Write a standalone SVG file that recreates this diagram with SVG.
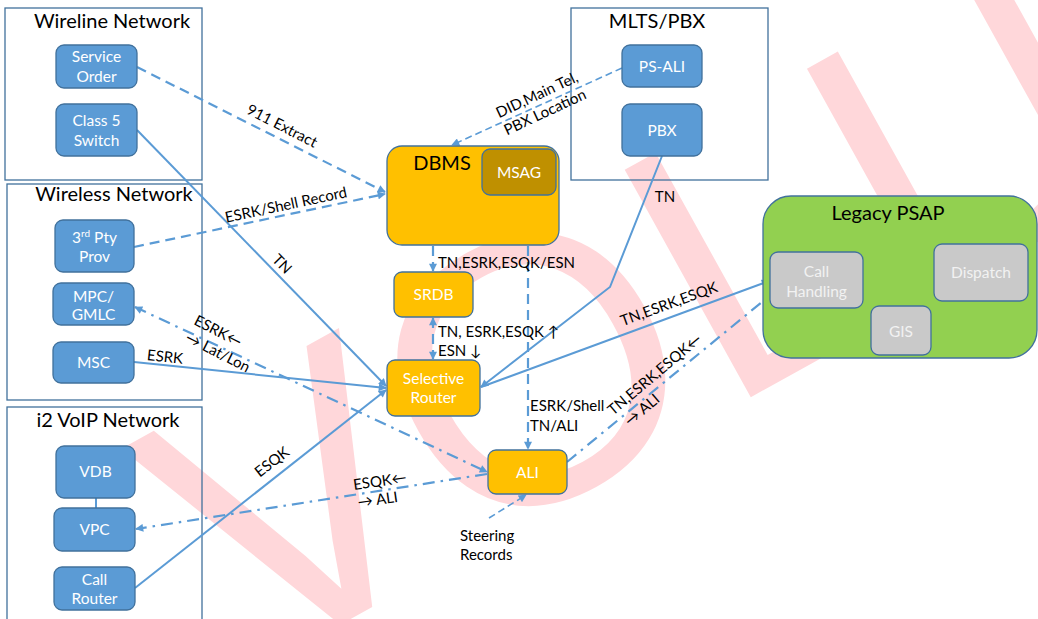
<svg xmlns="http://www.w3.org/2000/svg" width="1038" height="619" viewBox="0 0 1038 619">
  <defs>
    <marker id="arr" viewBox="0 0 10 10" refX="9" refY="5" markerWidth="10" markerHeight="8" markerUnits="userSpaceOnUse" orient="auto-start-reverse">
      <path d="M0,0 L10,5 L0,10 Z" fill="#5b9bd5"/>
    </marker>
    <style>
      .box { fill: none; stroke: #41719c; stroke-width: 1.3; }
      .blue { fill: #5b9bd5; stroke: #41719c; stroke-width: 1.3; }
      .gold { fill: #ffc000; stroke: #41719c; stroke-width: 1.3; }
      .msag { fill: #bf9000; stroke: #41719c; stroke-width: 1.3; }
      .psap { fill: #92d050; stroke: #41719c; stroke-width: 1.3; }
      .grey { fill: #c9c9c9; stroke: #41719c; stroke-width: 1.3; }
      text { font-family: "Lato", "Liberation Sans", "DejaVu Sans", sans-serif; }
      .title { font-size: 20px; fill: #000; text-anchor: middle; }
      .nt { font-size: 15.5px; fill: #fff; text-anchor: middle; }
      .gt { font-size: 15.5px; fill: #f2f2f2; text-anchor: middle; }
      .lbl { font-size: 15px; fill: #000; }
      .mid { text-anchor: middle; }
      .solid { fill: none; stroke: #5b9bd5; stroke-width: 2; }
      .dash { fill: none; stroke: #5b9bd5; stroke-width: 2.2; stroke-dasharray: 10 6; }
      .dash-thin { fill: none; stroke: #5b9bd5; stroke-width: 1.6; stroke-dasharray: 7 4; }
      .dashdot { fill: none; stroke: #5b9bd5; stroke-width: 2.2; stroke-dasharray: 12 6 2.5 6; }
    </style>
  </defs>

  <!-- background watermark -->
  <text x="246" y="677" transform="rotate(-29 246 677)" font-size="378" fill="#ffd7da" style="font-family:'Liberation Sans', sans-serif">VOLU</text>

  <!-- network containers -->
  <g id="wireline-network">
    <rect class="box" x="5" y="8" width="197" height="172"/>
    <text class="title" x="112" y="28">Wireline Network</text>
  </g>
  <g id="wireless-network">
    <rect class="box" x="7" y="184" width="195" height="216"/>
    <text class="title" x="114" y="201">Wireless Network</text>
  </g>
  <g id="voip-network">
    <rect class="box" x="7" y="407" width="195" height="220"/>
    <text class="title" x="108" y="427">i2 VoIP Network</text>
  </g>
  <g id="mlts-pbx">
    <rect class="box" x="571" y="8" width="197" height="172"/>
    <text class="title" x="657" y="28">MLTS/PBX</text>
  </g>

  <!-- connectors -->
  <g id="connectors">
    <path class="dash" d="M137,67 L385,192" marker-end="url(#arr)"/>
    <path class="dash" d="M134,247 L385,194" marker-end="url(#arr)"/>
    <path class="solid" d="M137,130 L386,386" marker-end="url(#arr)"/>
    <path class="solid" d="M134,362 L386,388" marker-end="url(#arr)"/>
    <path class="solid" d="M135,588 L386,390" marker-end="url(#arr)"/>
    <path class="solid" d="M662,156 L610,287 L481,387" marker-end="url(#arr)"/>
    <path class="solid" d="M481,387 L769,281" marker-end="url(#arr)"/>
    <path class="dash" d="M433,246 L433,271" marker-end="url(#arr)"/>
    <path class="dash" d="M433,318 L433,359" marker-start="url(#arr)" marker-end="url(#arr)"/>
    <path class="dash" d="M528,246 L528,449" marker-end="url(#arr)"/>
    <path class="dash-thin" d="M622,68 L452,145" marker-end="url(#arr)"/>
    <path class="dashdot" d="M135,307 L487,472" marker-start="url(#arr)" marker-end="url(#arr)"/>
    <path class="dashdot" d="M487,474 L136,529" marker-end="url(#arr)"/>
    <path class="dashdot" d="M567,462 L768,297"/>
    <path class="dash-thin" d="M489,518 L526,495" marker-end="url(#arr)"/>
    <line x1="96" y1="498" x2="96" y2="508" stroke="#5b9bd5" stroke-width="2"/>

    <!-- connector labels -->
    <text class="lbl mid" transform="translate(282,126) rotate(27)" y="5">911 Extract</text>
    <text class="lbl mid" transform="translate(286,205) rotate(-12)" y="5">ESRK/Shell Record</text>
    <text class="lbl mid" transform="translate(282,264) rotate(46)" y="5">TN</text>
    <text class="lbl mid" transform="translate(165,357) rotate(6)" y="5">ESRK</text>
    <text class="lbl mid" transform="translate(272,462) rotate(-38)" y="5">ESQK</text>
    <text class="lbl mid" x="665" y="202">TN</text>
    <text class="lbl mid" transform="translate(669,304) rotate(-20)" y="5">TN,ESRK,ESQK</text>
    <text class="lbl" x="438" y="268">TN,ESRK,ESQK/ESN</text>
    <text class="lbl" x="438" y="337">TN, ESRK,ESQK ↑</text>
    <text class="lbl" x="438" y="356">ESN ↓</text>
    <text class="lbl" x="530" y="411">ESRK/Shell</text>
    <text class="lbl" x="530" y="431">TN/ALI</text>
    <g transform="translate(537,95) rotate(-25)">
      <text class="lbl mid" y="5">DID,Main Tel,</text>
      <text class="lbl mid" y="24">PBX Location</text>
    </g>
    <g transform="translate(193,324) rotate(27)">
      <text class="lbl" x="0" y="0">ESRK←</text>
      <text class="lbl" x="0" y="19">→ Lat/Lon</text>
    </g>
    <g transform="translate(354,490) rotate(-8)">
      <text class="lbl" x="0" y="0">ESQK←</text>
      <text class="lbl" x="2" y="18">→ ALI</text>
    </g>
    <g transform="translate(613,416) rotate(-40)">
      <text class="lbl" x="0" y="0">TN,ESRK,ESQK←</text>
      <text class="lbl" x="6" y="19">→ ALI</text>
    </g>
    <text class="lbl" x="460" y="541">Steering</text>
    <text class="lbl" x="460" y="560">Records</text>
  </g>

  <!-- wireline nodes -->
  <g id="service-order">
    <rect class="blue" x="56" y="45" width="81" height="43" rx="8"/>
    <text class="nt" x="96.5" y="62">Service</text>
    <text class="nt" x="96.5" y="82">Order</text>
  </g>
  <g id="class5-switch">
    <rect class="blue" x="56" y="104" width="81" height="52" rx="8"/>
    <text class="nt" x="96.5" y="126">Class 5</text>
    <text class="nt" x="96.5" y="146">Switch</text>
  </g>

  <!-- wireless nodes -->
  <g id="third-party-prov">
    <rect class="blue" x="55" y="220" width="79" height="52" rx="8"/>
    <text class="nt" x="94.5" y="243">3<tspan dy="-6" font-size="10">rd</tspan><tspan dy="6"> Pty</tspan></text>
    <text class="nt" x="94.5" y="262">Prov</text>
  </g>
  <g id="mpc-gmlc">
    <rect class="blue" x="53" y="283" width="81" height="42" rx="8"/>
    <text class="nt" x="93.5" y="302">MPC/</text>
    <text class="nt" x="93.5" y="320">GMLC</text>
  </g>
  <g id="msc">
    <rect class="blue" x="53" y="342" width="81" height="41" rx="8"/>
    <text class="nt" x="93.5" y="368">MSC</text>
  </g>

  <!-- VoIP nodes -->
  <g id="vdb">
    <rect class="blue" x="56" y="446" width="79" height="52" rx="8"/>
    <text class="nt" x="95.5" y="477">VDB</text>
  </g>
  <g id="vpc">
    <rect class="blue" x="54" y="508" width="81" height="43" rx="8"/>
    <text class="nt" x="94.5" y="535">VPC</text>
  </g>
  <g id="call-router">
    <rect class="blue" x="54" y="567" width="81" height="43" rx="8"/>
    <text class="nt" x="94.5" y="585">Call</text>
    <text class="nt" x="94.5" y="604">Router</text>
  </g>

  <!-- MLTS/PBX nodes -->
  <g id="ps-ali">
    <rect class="blue" x="622" y="45" width="80" height="42" rx="8"/>
    <text class="nt" x="662" y="72">PS-ALI</text>
  </g>
  <g id="pbx">
    <rect class="blue" x="622" y="104" width="80" height="52" rx="8"/>
    <text class="nt" x="662" y="136">PBX</text>
  </g>

  <!-- 911 core -->
  <g id="dbms">
    <rect class="gold" x="387" y="146" width="172" height="99" rx="15"/>
    <text class="title" x="442" y="170">DBMS</text>
  </g>
  <g id="msag">
    <rect class="msag" x="482" y="149" width="74" height="46" rx="8"/>
    <text class="nt" x="519" y="178">MSAG</text>
  </g>
  <g id="srdb">
    <rect class="gold" x="394" y="272" width="79" height="45" rx="8"/>
    <text class="nt" x="433.5" y="300">SRDB</text>
  </g>
  <g id="selective-router">
    <rect class="gold" x="387" y="360" width="93" height="56" rx="8"/>
    <text class="nt" x="433.5" y="384">Selective</text>
    <text class="nt" x="433.5" y="403">Router</text>
  </g>
  <g id="ali">
    <rect class="gold" x="488" y="450" width="79" height="44" rx="8"/>
    <text class="nt" x="527.5" y="478">ALI</text>
  </g>

  <!-- PSAP -->
  <g id="legacy-psap">
    <rect class="psap" x="763" y="196" width="274" height="162" rx="28"/>
    <text class="title" x="888" y="220">Legacy PSAP</text>
  </g>
  <g id="call-handling">
    <rect class="grey" x="770" y="252" width="93" height="56" rx="8"/>
    <text class="gt" x="816.5" y="277">Call</text>
    <text class="gt" x="816.5" y="297">Handling</text>
  </g>
  <g id="dispatch">
    <rect class="grey" x="934" y="244" width="94" height="57" rx="8"/>
    <text class="gt" x="981" y="278">Dispatch</text>
  </g>
  <g id="gis">
    <rect class="grey" x="871" y="306" width="60" height="49" rx="8"/>
    <text class="gt" x="901" y="337">GIS</text>
  </g>
</svg>
